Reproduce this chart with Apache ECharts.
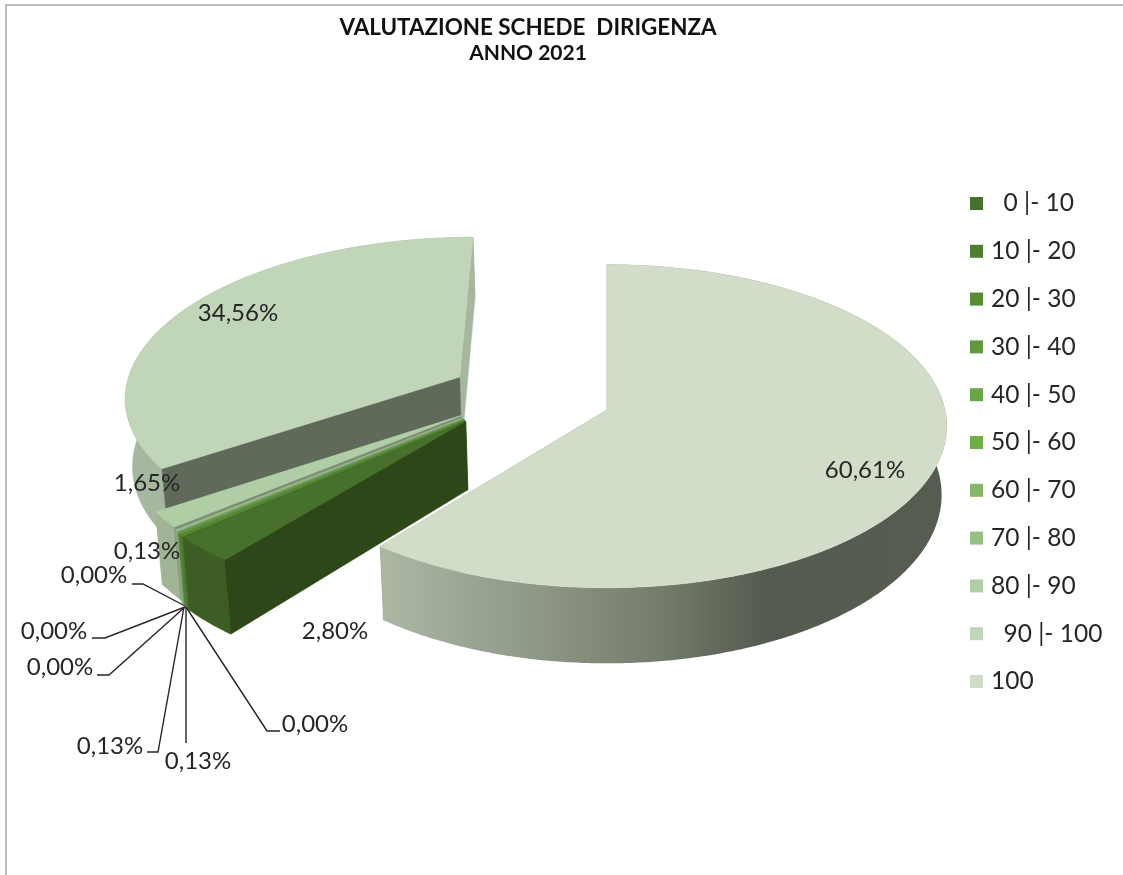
<!DOCTYPE html>
<html><head><meta charset="utf-8">
<script src="https://cdn.jsdelivr.net/npm/echarts@6/dist/echarts.min.js"></script>
<style>html,body{margin:0;padding:0;background:#fff}#c{width:1123px;height:875px}</style>
</head><body><div id="c"></div>
<script>
const categories = ['  0 |- 10','10 |- 20','20 |- 30','30 |- 40','40 |- 50','50 |- 60','60 |- 70','70 |- 80','80 |- 90','  90 |- 100','100'];
const values = [2.80,0.00,0.13,0.13,0.00,0.00,0.00,0.13,1.65,34.56,60.61];

// colours
const topColors = ['#47702c','#4f7e32','#588c37','#62993f','#6aa548','#70ad47','#84b767','#97c082','#b0cea6','#c1d5b9','#d2ddc9'];
const radialColors = ['#2e4718','#3a5c22','#46702a','#547f36','#5a8d3c','#5f943c','#6f9a57','#7f9a70','#7f8b78','#606a5a','#a5b59d'];
const outerColors = ['#3c5e25','#446b2a','#4b7730','#558336','#5a8d3d','#5f943c','#709c58','#8aa87a','#9fb596','#a6b79f','#8a9585'];
const mainWallStops = [[0,'#aab8a3'],[0.15,'#9aa796'],[0.3,'#8c9584'],[0.5,'#737b6c'],[0.68,'#555b4e'],[1,'#565c50']];

// pie geometry: centre, projected radii, perspective, thickness
const cx = 607, cy = 410, rx = 338, ry = 160, persp = 0.10, depth = 68, taper = 0.985;
// per-slice explosion (unit-circle offset)
const explode = [[-0.415,0.07],[-0.417,0.066],[-0.417,0.066],[-0.42,0.06],[-0.422,0.055],[-0.422,0.055],[-0.422,0.055],[-0.425,0.05],[-0.43,0.035],[-0.445,-0.21],[0,0]];
// text label anchors and leader lines
const labelPos = [[335,631],[315,724],[198,761],[110,746],[60,667],[54,631],[94,575],[147,551],[147,483],[238,313],[865,470]];
const leaders = [null,[[280,731],[267,731],[186,607]],[[186,743],[186,607]],[[147,752],[158,752],[184,607]],[[97,675],[109,675],[185,607]],[[92,638],[105,638],[185,607]],[[132,584],[143,584],[185,606]],null,null,null,null];

function proj(X,Y,down){
  const s = 1/(1-persp*Y);
  let x = cx+rx*X*s, y = cy+ry*Y*s;
  if(down){ y += depth*s; x = cx+(x-cx)*taper; }
  return [x,y];
}
function startAngle(i){
  // "100" starts at 12 o'clock, the other slices follow it clockwise
  let sum = values[10];
  for(let j=0;j<i;j++) sum += values[j];
  return i===10 ? 0 : sum/100*360;
}
function renderSlice(params,api){
  const i = params.seriesIndex;
  const v = api.value(0);
  if(!v) return {type:'group',children:[]};
  const a0 = startAngle(i)*Math.PI/180, a1 = a0+v/100*2*Math.PI;
  const [ox,oy] = explode[i];
  const n = Math.max(2,Math.ceil((a1-a0)*120));
  const top=[],bot=[];
  for(let k=0;k<=n;k++){
    const t=a0+(a1-a0)*k/n, X=ox+Math.sin(t), Y=oy-Math.cos(t);
    top.push(proj(X,Y,false)); bot.push(proj(X,Y,true));
  }
  const cT=proj(ox,oy,false), cB=proj(ox,oy,true);
  const poly=(pts,fill,stroke)=>({type:'polygon',shape:{points:pts},style:{fill:fill,stroke:stroke||fill,lineWidth:0.5},silent:true});
  const band = top.concat(bot.slice().reverse());
  const wall = i===10
    ? poly(band,{type:'linear',x:0,y:0,x2:1,y2:0,colorStops:mainWallStops.map(s=>({offset:s[0],color:s[1]}))},'none')
    : poly(band,outerColors[i]);
  return {type:'group',children:[
    poly([cT,top[n],bot[n],cB],outerColors[i]),
    wall,
    poly([cT,top[0],bot[0],cB],radialColors[i]),
    poly([cT].concat(top),topColors[i])
  ]};
}
function fmt(v){ return v.toFixed(2).replace('.',',')+'%'; }
function renderLabel(params,api){
  const i = params.dataIndex, v = api.value(0), p = labelPos[i], ch=[];
  if(leaders[i]) ch.push({type:'polyline',shape:{points:leaders[i]},style:{fill:'none',stroke:'#262626',lineWidth:1.4},silent:true});
  ch.push({type:'text',x:p[0],y:p[1],style:{text:fmt(v),fill:'#262626',font:'24px Lato',align:'center',verticalAlign:'middle'},silent:true});
  return {type:'group',children:ch};
}
// paint back to front: 100 and 90-100 first, then toward 0-10
const sliceSeries = categories.map((name,i)=>({
  type:'custom',name:name,coordinateSystem:'none',renderItem:renderSlice,
  data:[[values[i]]],itemStyle:{color:topColors[i]},animation:false,silent:true,
  z: i===10 ? 5 : 20-i
}));
const chart = echarts.init(document.getElementById('c'),null,{renderer:'canvas'});
chart.setOption({
  animation:false,
  backgroundColor:'#ffffff',
  title:{text:'VALUTAZIONE SCHEDE  DIRIGENZA',subtext:'ANNO 2021',left:523,top:12,textAlign:'center',itemGap:4,
    textStyle:{fontFamily:'Lato',fontWeight:'bold',fontSize:22.4,color:'#111'},
    subtextStyle:{fontFamily:'Lato',fontWeight:'bold',fontSize:21,color:'#111'}},
  legend:{orient:'vertical',left:965,top:186,itemWidth:13,itemHeight:13,itemGap:22.8,icon:'rect',selectedMode:false,data:categories,
    textStyle:{fontFamily:'Lato',fontSize:24.5,color:'#262626',padding:[0,0,0,3]}},
  graphic:[{type:'rect',shape:{x:6,y:5,width:1300,height:1100},style:{fill:'none',stroke:'#a6a6a6',lineWidth:1.5},silent:true,z:0}],
  series: sliceSeries.concat([{type:'custom',name:'etichette',coordinateSystem:'none',renderItem:renderLabel,data:values.map(v=>[v]),z:40,silent:true,animation:false}])
});
</script></body></html>
